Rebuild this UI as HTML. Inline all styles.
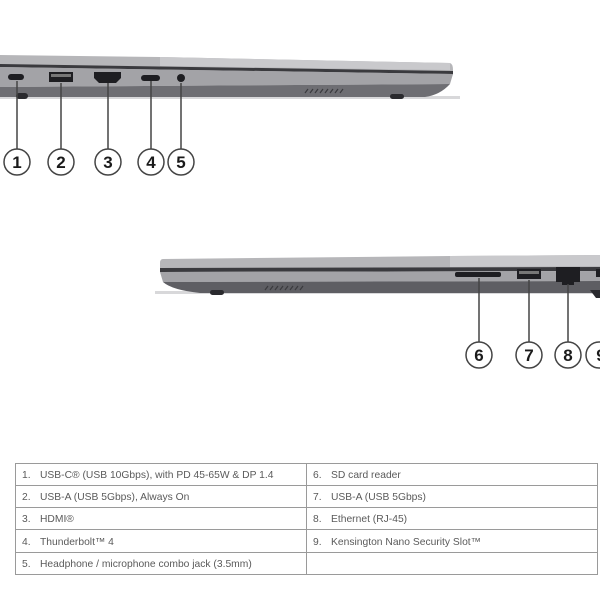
<!DOCTYPE html>
<html><head><meta charset="utf-8"><style>
html,body{margin:0;padding:0;background:#fff;width:600px;height:600px;overflow:hidden}
</style></head><body>
<svg width="600" height="600" viewBox="0 0 600 600" xmlns="http://www.w3.org/2000/svg" font-family="Liberation Sans, sans-serif">
<!-- Laptop 1 -->
<rect x="0" y="96" width="460" height="3" fill="#d8d8da"/>
<path d="M0 55 L160 57 L450 63 Q453 64 453 70 L453 75 L0 70 Z" fill="#b6b6b9"/>
<path d="M160 57 L450 63 L450 70 L160 66 Z" fill="#c9c9cc"/>
<path d="M0 64 L453 71 L453 74 L0 67 Z" fill="#3a3a3e"/>
<path d="M0 67 L453 74 L450 84 L0 87 Z" fill="#a3a3a7"/>
<path d="M0 87 L450 84 Q440 95 425 97 L0 97 Z" fill="#6e6e73"/>
<rect x="16" y="93" width="12" height="6" rx="3" fill="#2a2a2e"/>
<rect x="390" y="94" width="14" height="5" rx="2.5" fill="#2a2a2e"/>
<g stroke="#3a3a3e" stroke-width="1.2"><line x1="305" y1="93" x2="308" y2="89"/><line x1="310" y1="93" x2="313" y2="89"/><line x1="315" y1="93" x2="318" y2="89"/><line x1="320" y1="93" x2="323" y2="89"/><line x1="325" y1="93" x2="328" y2="89"/><line x1="330" y1="93" x2="333" y2="89"/><line x1="335" y1="93" x2="338" y2="89"/><line x1="340" y1="93" x2="343" y2="89"/></g>
<!-- ports 1 -->
<rect x="8" y="74" width="16" height="6" rx="3" fill="#1e1e22"/>
<rect x="49" y="72" width="24" height="10" fill="#1e1e22"/><rect x="51" y="74" width="20" height="3" fill="#777"/>
<path d="M94 72 L121 72 L121 78 L116 83 L99 83 L94 78 Z" fill="#1e1e22"/>
<rect x="141" y="75" width="19" height="6" rx="3" fill="#1e1e22"/>
<circle cx="181" cy="78" r="4" fill="#1e1e22"/>
<g stroke="#444" stroke-width="1.5" fill="#fff">
<line x1="17" y1="81" x2="17" y2="149"/><line x1="61" y1="83" x2="61" y2="149"/><line x1="108" y1="83" x2="108" y2="149"/><line x1="151" y1="81" x2="151" y2="149"/><line x1="181" y1="83" x2="181" y2="149"/>
<circle cx="17" cy="162" r="13"/><circle cx="61" cy="162" r="13"/><circle cx="108" cy="162" r="13"/><circle cx="151" cy="162" r="13"/><circle cx="181" cy="162" r="13"/>
</g>
<g font-size="17" font-weight="bold" text-anchor="middle" fill="#1a1a1a">
<text x="17" y="168">1</text><text x="61" y="168">2</text><text x="108" y="168">3</text><text x="151" y="168">4</text><text x="181" y="168">5</text>
</g>
<!-- Laptop 2 -->
<rect x="155" y="291" width="445" height="3" fill="#d8d8da"/>
<path d="M163 259 L450 256 L600 255 L600 270 L160 271 L160 263 Q160 259 163 259 Z" fill="#b6b6b9"/>
<path d="M450 256 L600 255 L600 266 L450 267 Z" fill="#c9c9cc"/>
<path d="M160 268 L600 267 L600 271 L160 272 Z" fill="#3a3a3e"/>
<path d="M160 272 L600 271 L600 281 L163 282 Z" fill="#a3a3a7"/>
<path d="M163 282 L600 281 L600 293 L200 293 Q172 290 163 282 Z" fill="#5e5e63"/>
<rect x="210" y="290" width="14" height="5" rx="2.5" fill="#2a2a2e"/>
<path d="M590 290 L608 290 L604 298 L596 298 Z" fill="#2a2a2e"/>
<g stroke="#3a3a3e" stroke-width="1.2"><line x1="265" y1="290" x2="268" y2="286"/><line x1="270" y1="290" x2="273" y2="286"/><line x1="275" y1="290" x2="278" y2="286"/><line x1="280" y1="290" x2="283" y2="286"/><line x1="285" y1="290" x2="288" y2="286"/><line x1="290" y1="290" x2="293" y2="286"/><line x1="295" y1="290" x2="298" y2="286"/><line x1="300" y1="290" x2="303" y2="286"/></g>
<!-- ports 2 -->
<rect x="455" y="272" width="46" height="5" rx="2" fill="#1e1e22"/>
<rect x="517" y="269" width="24" height="10" fill="#1e1e22"/><rect x="519" y="271" width="20" height="3" fill="#777"/>
<path d="M556 267 L580 267 L580 282 L574 282 L574 285 L562 285 L562 282 L556 282 Z" fill="#1e1e22"/>
<rect x="596" y="269" width="6" height="8" fill="#1e1e22"/>
<g stroke="#444" stroke-width="1.5" fill="#fff">
<line x1="479" y1="278" x2="479" y2="342"/><line x1="529" y1="280" x2="529" y2="342"/><line x1="568" y1="284" x2="568" y2="342"/>
<circle cx="479" cy="355" r="13"/><circle cx="529" cy="355" r="13"/><circle cx="568" cy="355" r="13"/><circle cx="599" cy="355" r="13"/>
</g>
<g font-size="17" font-weight="bold" text-anchor="middle" fill="#1a1a1a">
<text x="479" y="361">6</text><text x="529" y="361">7</text><text x="568" y="361">8</text><text x="601" y="361">9</text>
</g>
<!-- Table -->
<g stroke="#9a9a9a" stroke-width="1" fill="none">
<rect x="15.5" y="463.5" width="582" height="111"/>
<line x1="15.5" y1="485.5" x2="597.5" y2="485.5"/>
<line x1="15.5" y1="507.5" x2="597.5" y2="507.5"/>
<line x1="15.5" y1="529.5" x2="597.5" y2="529.5"/>
<line x1="15.5" y1="552.5" x2="597.5" y2="552.5"/>
<line x1="306.5" y1="463.5" x2="306.5" y2="574.5"/>
</g>
<g font-size="10.3" fill="#5a5a5a">
<text x="22" y="478">1.</text><text x="40" y="478">USB-C® (USB 10Gbps), with PD 45-65W &amp; DP 1.4</text>
<text x="22" y="500">2.</text><text x="40" y="500">USB-A (USB 5Gbps), Always On</text>
<text x="22" y="522">3.</text><text x="40" y="522">HDMI®</text>
<text x="22" y="545">4.</text><text x="40" y="545">Thunderbolt™ 4</text>
<text x="22" y="567">5.</text><text x="40" y="567">Headphone / microphone combo jack (3.5mm)</text>
<text x="313" y="478">6.</text><text x="331" y="478">SD card reader</text>
<text x="313" y="500">7.</text><text x="331" y="500">USB-A (USB 5Gbps)</text>
<text x="313" y="522">8.</text><text x="331" y="522">Ethernet (RJ-45)</text>
<text x="313" y="545">9.</text><text x="331" y="545">Kensington Nano Security Slot™</text>
</g>
</svg>
</body></html>
